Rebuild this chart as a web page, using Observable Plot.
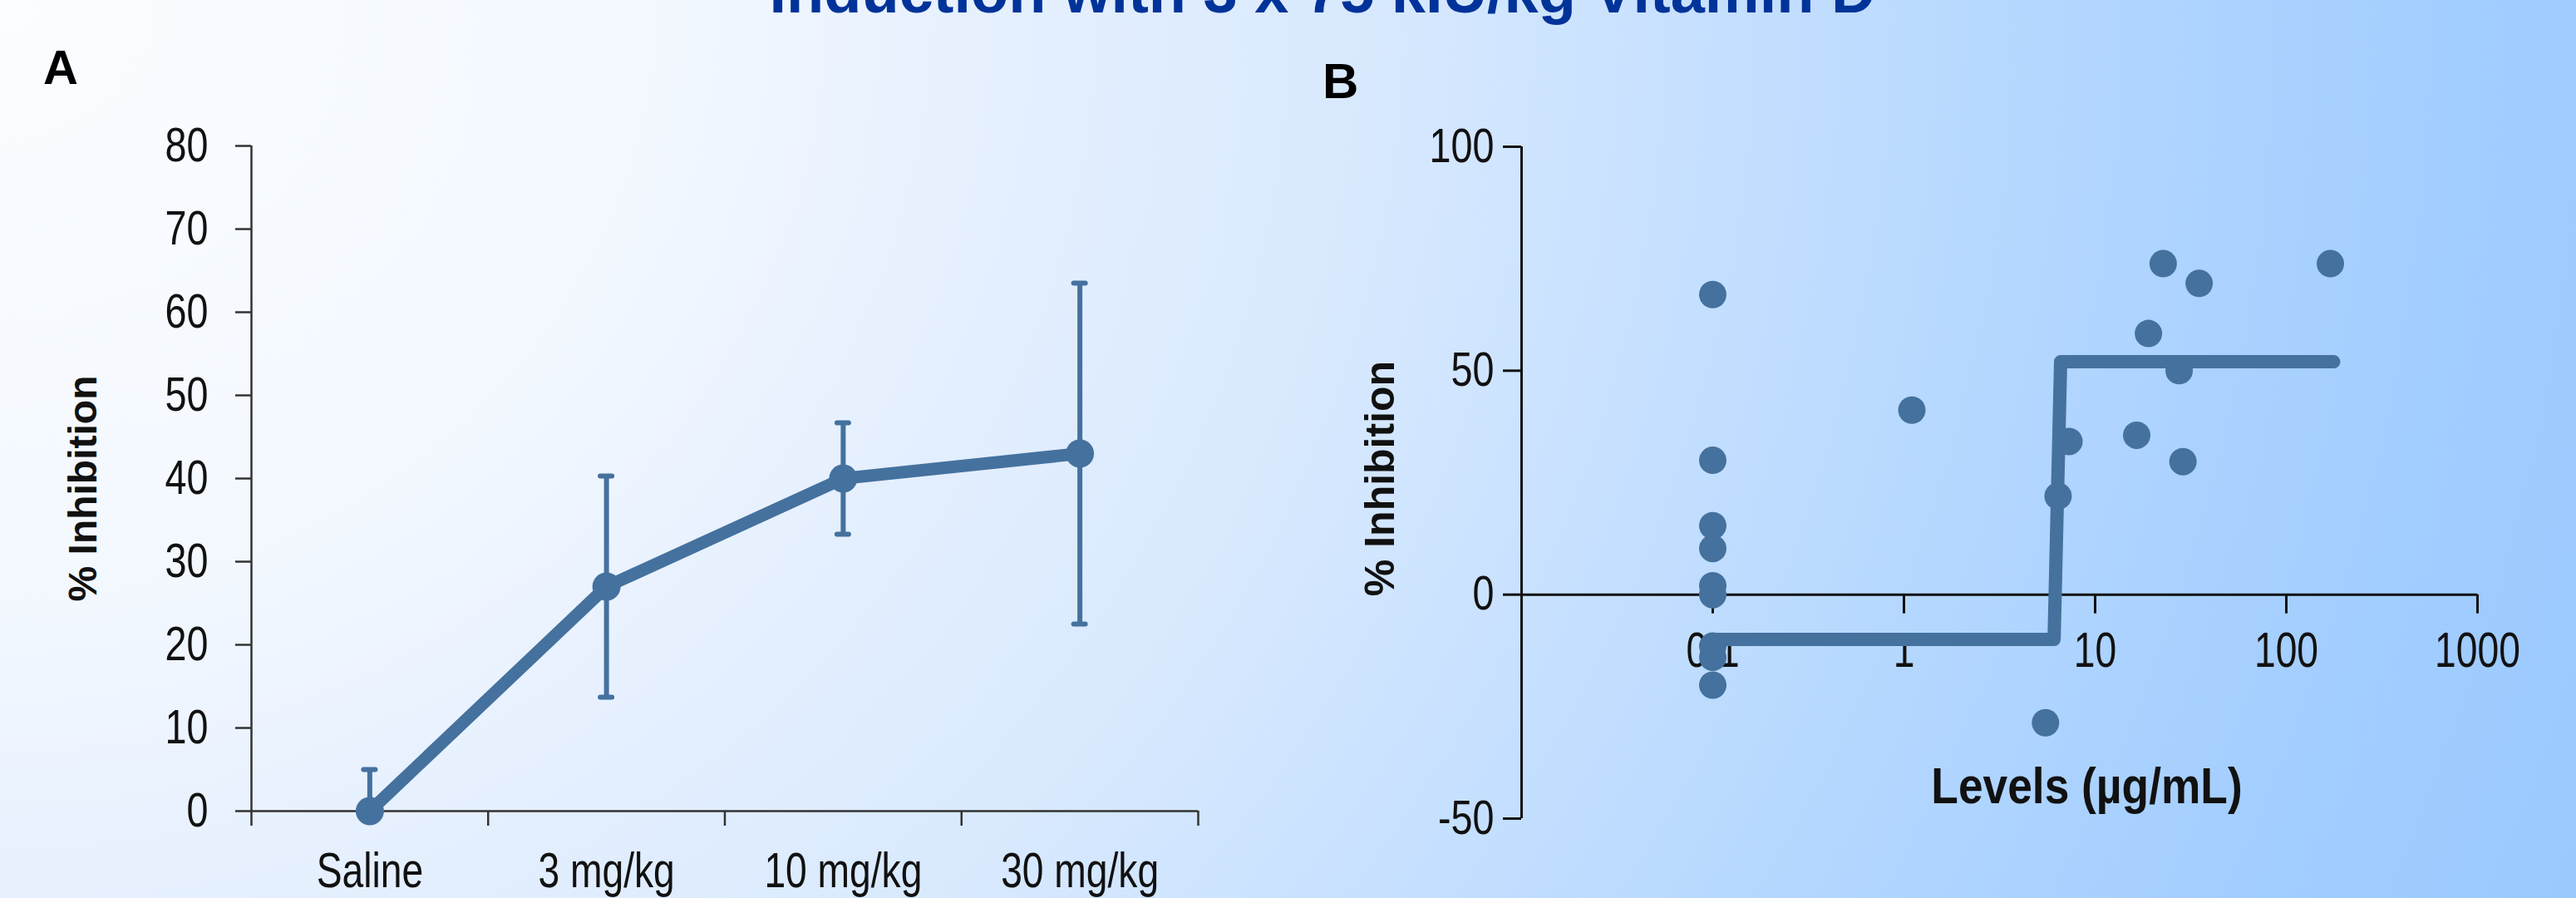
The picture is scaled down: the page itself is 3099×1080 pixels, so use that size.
<!DOCTYPE html>
<html>
<head>
<meta charset="utf-8">
<script src="https://cdn.jsdelivr.net/npm/d3@7"></script>
<script src="https://cdn.jsdelivr.net/npm/@observablehq/plot@0.6"></script>
<style>
  html, body { margin: 0; padding: 0; }
  body {
    width: 3099px; height: 1080px; overflow: hidden; position: relative;
    background: radial-gradient(ellipse 3300px 3000px at 0px 0px,
      #fbfdff 0%, #f3f8ff 24%, #e6f0fe 36%, #d8e9fe 50%, #c6e0ff 62%, #b2d6ff 76%, #a2cdff 90%, #9bc9ff 100%);
    font-family: 'Liberation Sans', Arial, sans-serif;
  }
  .abs { position: absolute; white-space: nowrap; }
  #title { left: 0; width: 3182px; top: -47px; text-align: center; font-weight: bold;
    font-size: 74px; line-height: 74px; color: #003399; }
  #lblA { left: 52px; top: 52px; font-weight: bold; font-size: 58px; line-height: 58px; color: #000; }
  #lblB { left: 1591px; top: 68px; font-weight: bold; font-size: 60px; line-height: 60px; color: #000; }
  #chartA { left: 0; top: 0; width: 1550px; height: 1080px; }
  #chartB { left: 1550px; top: 0; width: 1549px; height: 1080px; }
</style>
</head>
<body>
<div id="title" class="abs">Induction with 3 x 75 kIU/kg Vitamin D</div>
<div id="chartA" class="abs"></div>
<div id="chartB" class="abs"></div>
<div id="lblA" class="abs">A</div>
<div id="lblB" class="abs">B</div>
<script>
// ---------- Panel A data ----------
const catsA = ["Saline", "3 mg/kg", "10 mg/kg", "30 mg/kg"];
const meanA = [0, 27, 40, 43];
const semA = [5, 13.3, 6.7, 20.5];
const yTicksA = [0, 10, 20, 30, 40, 50, 60, 70, 80];
const yDomainA = [0, 80];
const yLabel = "% Inhibition";

// ---------- Panel B data ----------
const levelsB = [0.1, 0.1, 0.1, 0.1, 0.1, 0.1, 0.1, 0.1, 0.1, 1.1, 5.5, 6.4, 7.3, 16.5, 19, 22.7, 27.5, 28.8, 35, 170];
const inhibB  = [67, 30, 15.4, 10.3, 2, 0, -11.5, -14, -20.2, 41.2, -28.6, 22, 34.2, 35.6, 58.3, 73.9, 50, 29.7, 69.5, 73.9];
const fitX = [0.1, 6.1, 6.6, 177];
const fitY = [-10, -10, 52, 52];
const xTicksB = [0.1, 1, 10, 100, 1000];
const xTickLabelsB = ["0.1", "1", "10", "100", "1000"];
const yTicksB = [-50, 0, 50, 100];
const xDomainB = [0.01, 1000];
const yDomainB = [-50, 100];
const xLabelB = "Levels (µg/mL)";

const C = "#45719e";
const FONT = "'Liberation Sans', Arial, sans-serif";

const dataA = catsA.map((c, i) => ({cat: c, xi: i + 0.5, mean: meanA[i], lo: meanA[i] - semA[i], hi: meanA[i] + semA[i]}));
const boundsA = d3.range(catsA.length + 1);
const centersA = catsA.map((c, i) => i + 0.5);
const pointsB = levelsB.map((l, i) => ({level: l, inhib: inhibB[i]}));
const fitB = fitX.map((x, i) => ({x, y: fitY[i]}));

const plotA = Plot.plot({
  width: 1550, height: 1080,
  marginLeft: 302, marginRight: 109, marginTop: 175, marginBottom: 105,
  style: {background: "transparent", color: "#111", fontFamily: FONT, overflow: "visible"},
  x: {type: "linear", domain: [0, catsA.length]},
  y: {domain: yDomainA},
  marks: [
    Plot.ruleY([0], {stroke: "#333", strokeWidth: 2.5}),
    Plot.ruleX([0], {stroke: "#333", strokeWidth: 2.5}),
    Plot.axisY(yTicksA, {tickSize: 19, tickPadding: 33, fontSize: 57, label: null, strokeWidth: 2.5, stroke: "#333", tickFormat: d => String(d)}),
    Plot.axisX(boundsA, {tickSize: 18, tickFormat: () => "", label: null, strokeWidth: 2.5, stroke: "#333"}),
    Plot.axisX(centersA, {tickSize: 0, tickPadding: 49, tickFormat: d => catsA[Math.round(d - 0.5)], fontSize: 60, label: null}),
    Plot.ruleX(dataA, {x: "xi", y1: "lo", y2: "hi", stroke: C, strokeWidth: 6, clip: true}),
    Plot.ruleY(dataA, {y: "hi", x1: "xi", x2: "xi", insetLeft: -7, insetRight: -7, stroke: C, strokeWidth: 6, strokeLinecap: "round", clip: true}),
    Plot.ruleY(dataA, {y: "lo", x1: "xi", x2: "xi", insetLeft: -7, insetRight: -7, stroke: C, strokeWidth: 6, strokeLinecap: "round", clip: true}),
    Plot.line(dataA, {x: "xi", y: "mean", stroke: C, strokeWidth: 15, strokeLinejoin: "round"}),
    Plot.dot(dataA, {x: "xi", y: "mean", r: 17, fill: C}),
    Plot.text([yLabel], {frameAnchor: "left", dx: -202, dy: 12, rotate: -90, textAnchor: "middle", fontSize: 48, fontWeight: "bold", lineAnchor: "middle"})
  ]
});

const plotB = Plot.plot({
  width: 1549, height: 1080,
  marginLeft: 280, marginRight: 119, marginTop: 176, marginBottom: 96,
  style: {background: "transparent", color: "#111", fontFamily: FONT, overflow: "visible"},
  x: {type: "log", domain: xDomainB, axis: null},
  y: {domain: yDomainB},
  marks: [
    Plot.ruleY([0], {stroke: "#111", strokeWidth: 3}),
    Plot.ruleX([xDomainB[0]], {y1: yDomainB[0], y2: yDomainB[1], stroke: "#111", strokeWidth: 3}),
    Plot.axisY(yTicksB, {tickSize: 22, tickPadding: 11, fontSize: 57, label: null, strokeWidth: 3, stroke: "#111", tickFormat: d => String(d)}),
    Plot.ruleX(xTicksB, {x: d => d, y1: 0, y2: 0, insetTop: 23, stroke: "#111", strokeWidth: 3}),
    Plot.text(xTicksB, {x: d => d, y: 0, text: (d, i) => xTickLabelsB[i], dy: 44, lineAnchor: "top", fontSize: 60}),
    Plot.text([xLabelB], {frameAnchor: "bottom", dx: 105, dy: -19, lineAnchor: "bottom", fontSize: 62, fontWeight: "bold"}),
    Plot.text([yLabel], {frameAnchor: "left", dx: -170, dy: -5, rotate: -90, textAnchor: "middle", fontSize: 50, fontWeight: "bold", lineAnchor: "middle"}),
    Plot.dot(pointsB, {x: "level", y: "inhib", r: 16.5, fill: C}),
    Plot.line(fitB, {x: "x", y: "y", stroke: C, strokeWidth: 16, strokeLinecap: "round", strokeLinejoin: "round"})
  ]
});

function condense(svg) {
  svg.querySelectorAll("text").forEach(t => {
    const tr = t.getAttribute("transform") || "";
    if (tr.includes("rotate")) return;
    const content = t.textContent;
    if (!content) return;
    const g = t.closest("g[aria-label]");
    const aria = g ? g.getAttribute("aria-label") : "";
    let s = 0.77;
    if (aria && aria.indexOf("y-axis") === 0) s = 0.82;
    if (content === xLabelB) s = 0.86;
    const x = parseFloat(t.getAttribute("x")) || 0;
    t.setAttribute("transform", `${tr} translate(${x},0) scale(${s},1) translate(${-x},0)`);
  });
}
condense(plotA);
condense(plotB);
document.getElementById("chartA").appendChild(plotA);
document.getElementById("chartB").appendChild(plotB);
</script>
</body>
</html>
